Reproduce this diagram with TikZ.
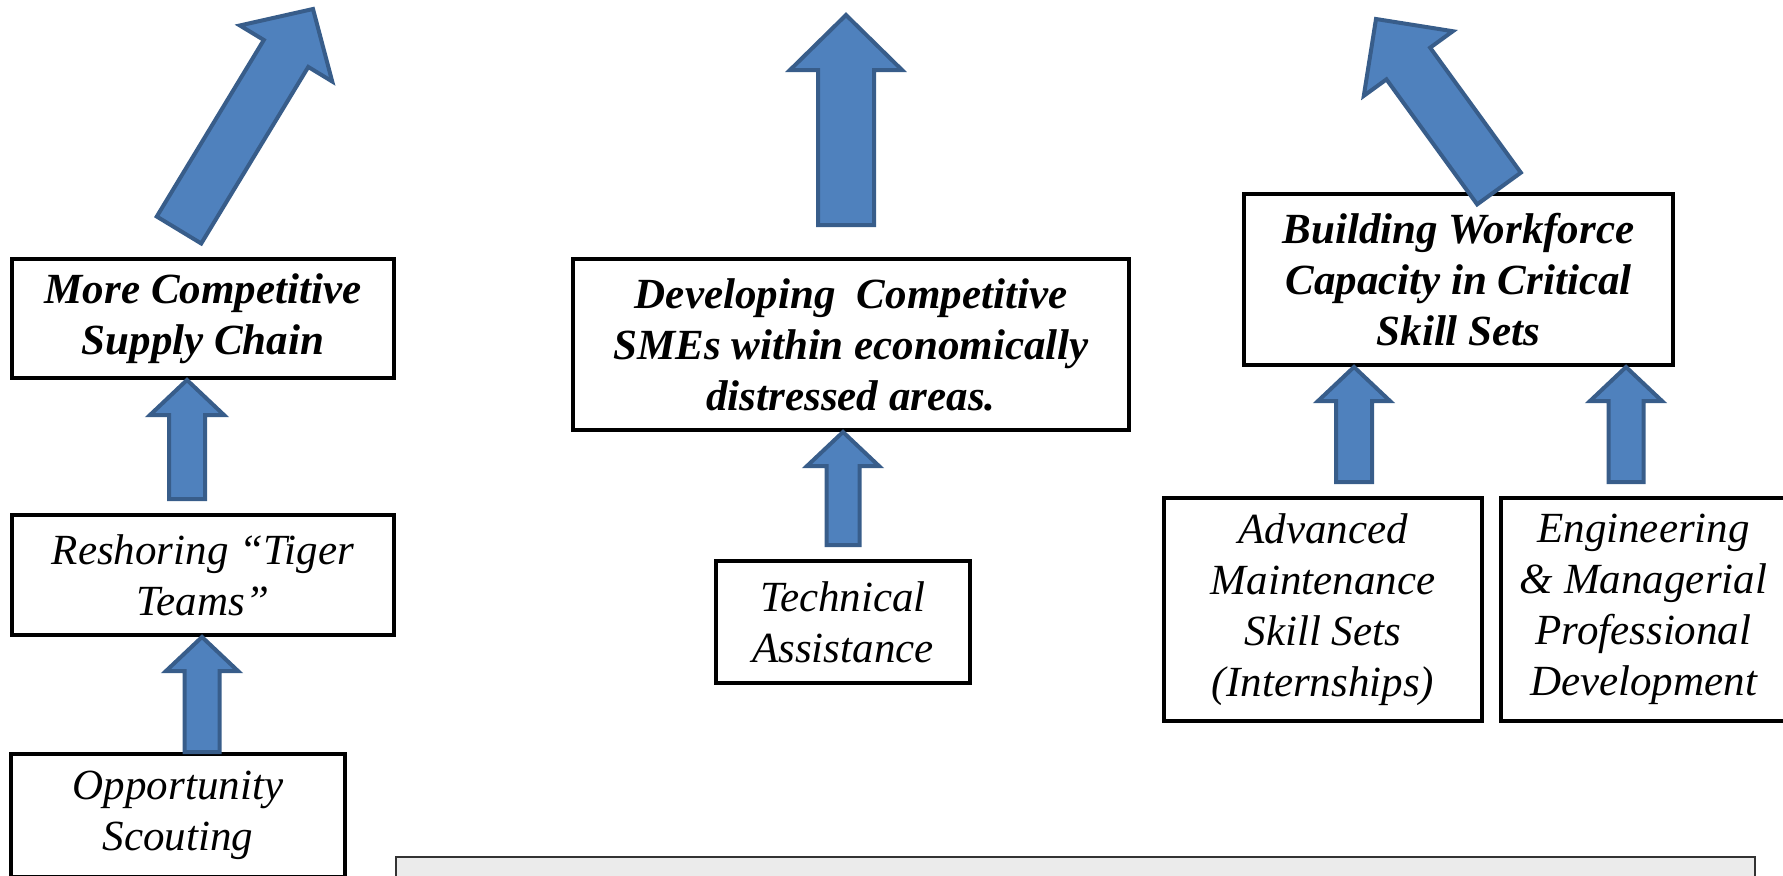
\documentclass[tikz,border=0pt]{standalone}
\usepackage{fontspec}
\setmainfont{Liberation Serif}
\usetikzlibrary{calc}
\definecolor{fondfleche}{HTML}{4F81BD}
\definecolor{bordfleche}{HTML}{385D8A}
\definecolor{fondcadre}{HTML}{EBEBEB}
\begin{document}
\begin{tikzpicture}[x=0.5pt,y=-0.5pt]
		% Styles (MODIFIABLES)
		\tikzstyle{boite}=[draw=black,line width=2pt,fill=white,inner sep=0pt,align=center,font=\fontsize{21.5}{25.5}\selectfont\itshape]
		\tikzstyle{titre}=[boite,font=\fontsize{21.5}{25.5}\selectfont\bfseries\itshape]
		\tikzstyle{fleche}=[draw=bordfleche,fill=fondfleche,line width=2pt,line join=miter]
		\tikzstyle{cadre}=[draw=black!80,fill=fondcadre,line width=1.2pt,inner sep=0pt]
		% Fleche epaisse : depart, pointe, demi-corps, demi-tete, longueur de tete
		\def\Fleche#1#2#3#4#5{%
			\path ($(#2)!#5!(#1)$) coordinate (base);
			\draw[fleche] ($(#1)!#3!90:(#2)$) -- ($(base)!#3!90:(#2)$) -- ($(base)!#4!90:(#2)$) -- (#2)
				-- ($(base)!#4!-90:(#2)$) -- ($(base)!#3!-90:(#2)$) -- ($(#1)!#3!-90:(#2)$) -- cycle;}
		\useasboundingbox (0,0) rectangle (1783,875);
		% Noeuds (MODIFIABLES)
		\node[titre,minimum width=382*0.5pt,minimum height=119*0.5pt] (A) at (203,318.5) {More Competitive\\Supply Chain};
		\node[boite,minimum width=382*0.5pt,minimum height=120*0.5pt] (R) at (203,575) {Reshoring “Tiger\\Teams”};
		\node[boite,minimum width=334*0.5pt,minimum height=123*0.5pt] (O) at (178,815.5) {Opportunity\\Scouting};
		%
		\node[titre,minimum width=556*0.5pt,minimum height=171*0.5pt] (D) at (851,344.5) {Developing\ \ Competitive\\SMEs within economically\\distressed areas.};
		\node[boite,minimum width=254*0.5pt,minimum height=122*0.5pt] (T) at (843,622) {Technical\\Assistance};
		%
		\node[titre,minimum width=429*0.5pt,minimum height=171*0.5pt] (B) at (1458.5,279.5) {Building Workforce\\Capacity in Critical\\Skill Sets};
		\node[boite,minimum width=318*0.5pt,minimum height=223*0.5pt] (AM) at (1323,609.5) {Advanced\\Maintenance\\Skill Sets\\(Internships)};
		\node[boite,minimum width=285*0.5pt,minimum height=223*0.5pt] (EM) at (1643.5,609.5) {Engineering\\\& Managerial\\Professional\\Development};
		%
		\node[cadre,minimum width=1359*0.5pt,minimum height=44*0.5pt,anchor=north west] (legende) at (395,856) {};
		% Extremites des fleches
		\coordinate (qA) at (179,230);
		\coordinate (pA) at (313,9);
		\coordinate (qD) at (846,225);
		\coordinate (pD) at (846,15);
		\coordinate (qB) at (1499,188.5);
		\coordinate (pB) at (1376,19);
		\coordinate (pAR) at (187,0 |- A.south);
		\coordinate[yshift=7pt] (qAR) at (187,0 |- R.north);
		\coordinate (pRO) at (202,0 |- R.south);
		\coordinate (qRO) at (202,0 |- O.north);
		\coordinate (pDT) at (843,0 |- D.south);
		\coordinate[yshift=7pt] (qDT) at (843,0 |- T.north);
		\coordinate (pBA) at (1354,0 |- B.south);
		\coordinate[yshift=7pt] (qBA) at (1354,0 |- AM.north);
		\coordinate (pBE) at (1626,0 |- B.south);
		\coordinate[yshift=7pt] (qBE) at (1626,0 |- EM.north);
		% Fleches (MODIFIABLES)
		\Fleche{qA}{pA}{13pt}{27pt}{26pt}
		\Fleche{qD}{pD}{14pt}{28pt}{27.5pt}
		\Fleche{qB}{pB}{13.5pt}{27.5pt}{27.5pt}
		\Fleche{qAR}{pAR}{9pt}{18.5pt}{17.5pt}
		\Fleche{qRO}{pRO}{8.75pt}{18pt}{17pt}
		\Fleche{qDT}{pDT}{8.25pt}{18pt}{17pt}
		\Fleche{qBA}{pBA}{9pt}{18pt}{17pt}
		\Fleche{qBE}{pBE}{8.75pt}{18pt}{17pt}
	\end{tikzpicture}
\end{document}
